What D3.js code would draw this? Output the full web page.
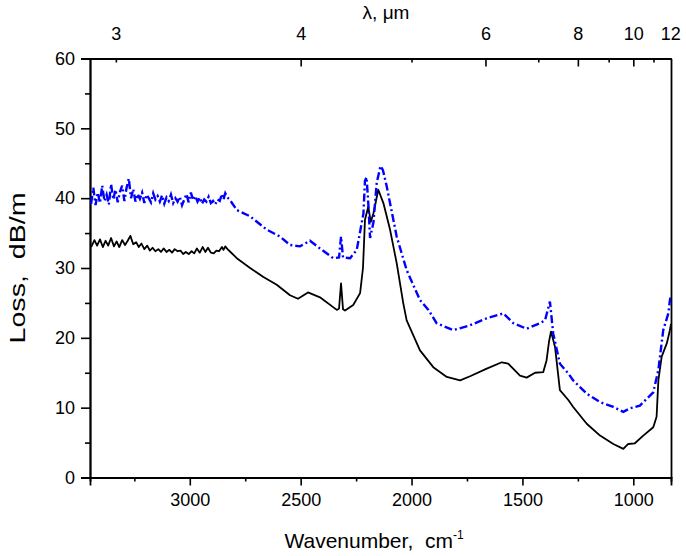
<!DOCTYPE html>
<html>
<head>
<meta charset="utf-8">
<script src="https://cdn.jsdelivr.net/npm/d3@7"></script>
<style>
  html, body { margin: 0; padding: 0; background: #fff; }
  svg { display: block; font-family: "Liberation Sans", Arial, sans-serif; }
</style>
</head>
<body>
<svg id="chart" width="686" height="556"></svg>
<script>
// ---- data ----
const blackWavenumber = [3445,3430,3418,3405,3392,3380,3368,3355,3342,3330,3318,3305,3292,3280,3268,3255,3242,3230,3218,3205,3192,3180,3168,3155,3142,3130,3118,3105,3092,3080,3068,3055,3042,3030,3018,3005,2992,2980,2968,2955,2942,2930,2918,2905,2892,2880,2868,2855,2848,2840,2830,2820,
  2788,2728,2668,2608,2548,2512,2467,2413,2337,2327,2318,2309,2300,2263,2232,2219,2210,2195,2184,2172,2150,2127,2097,2067,2037,2022,1962,1902,1841,1781,1736,1661,1593,1564,1511,1481,1443,1406,1391,1380,1371,1353,1331,1293,1271,1210,1150,1090,1045,1023,993,955,910,895,887,872,849,835,830];
const blackLoss = [33.0,34.0,33.2,34.1,33.0,33.9,33.2,34.3,33.1,33.8,33.0,34.0,33.3,33.9,34.6,33.4,33.7,33.0,33.5,32.7,33.2,32.5,32.9,32.4,32.7,32.3,32.8,32.3,32.6,32.2,32.7,32.4,32.5,32.0,32.3,32.0,32.4,32.1,32.8,32.2,33.0,32.3,32.9,32.2,32.1,32.5,32.4,33.0,32.6,33.1,32.7,32.4,
  31.4,30.0,28.7,27.6,26.1,25.6,26.5,25.8,24.0,24.2,27.8,24.1,23.9,24.7,26.4,30.0,36.9,38.8,36.6,37.8,41.2,39.3,35.5,30.7,24.9,22.5,18.2,15.8,14.4,13.9,14.5,15.6,16.5,16.3,14.6,14.3,15.0,15.1,16.8,19.5,20.9,18.7,12.5,11.1,10.1,7.7,6.0,4.8,4.1,4.8,4.9,6.0,7.2,8.7,13.9,17.3,19.2,21.1,22.0];

const blueWavenumber = [3445,3435,3425,3415,3405,3395,3385,3375,3365,3355,3345,3335,3325,3315,3305,3295,3285,3275,3265,3255,3245,3235,3225,3215,3205,3195,3185,3175,3165,3155,3145,3135,3125,3115,3105,3095,3085,3075,3065,3055,3045,3035,3025,3015,3005,2995,2985,2975,2965,2955,2945,2935,2925,2915,2905,2895,2885,2875,2865,2855,2848,2840,2830,2818,
  2788,2728,2653,2593,2548,2503,2458,2413,2353,2327,2318,2309,2277,2247,2217,2210,2203,2196,2187,2172,2157,2140,2129,2112,2067,2022,1962,1924,1887,1812,1736,1661,1586,1541,1481,1421,1398,1376,1361,1331,1293,1271,1210,1150,1090,1045,1015,970,910,887,865,842,835,830];
const blueLoss = [39.2,41.5,39.0,40.8,39.3,41.8,39.6,40.5,39.1,42.0,39.8,41.2,39.4,40.9,41.8,39.6,41.5,42.8,40.0,41.3,39.5,40.6,39.9,40.8,39.3,40.5,40.0,39.4,40.7,39.8,40.3,39.5,40.4,39.2,40.1,39.6,40.5,39.3,40.0,39.5,40.2,39.0,39.8,40.6,39.4,40.8,39.7,40.3,39.5,40.1,39.2,39.8,39.5,40.2,39.3,39.6,39.1,39.8,39.6,40.6,39.8,40.7,40.1,39.7,
  38.3,37.4,35.5,34.5,33.3,33.1,33.9,32.8,31.4,31.5,34.5,31.5,31.4,32.6,37.8,42.5,43.0,39.8,34.3,36.5,42.2,44.6,44.0,41.7,34.5,29.7,25.4,24.0,22.1,21.1,21.8,22.8,23.5,22.1,21.3,22.1,22.5,25.2,20.6,16.3,14.9,13.9,12.0,10.8,10.1,9.4,9.9,10.3,12.2,15.4,21.1,23.5,25.4,26.0];

const xTickValues = [3000, 2500, 2000, 1500, 1000];
const xMinorTicks = [3250, 2750, 2250, 1750, 1250];
const yTickValues = [0, 10, 20, 30, 40, 50, 60];
const yMinorTicks = [5, 15, 25, 35, 45, 55];
const lambdaLabels = [3, 4, 6, 8, 10, 12];
const lambdaMajor = [4, 6, 8, 10];
const lambdaMinor = [3, 5, 7, 9, 11];

// ---- layout ----
const svg = d3.select("#chart");
const mL = 90, mR = 671, mT = 58.5, mB = 477.5;
const x = d3.scaleLinear().domain([3450, 830]).range([mL, mR]);
const y = d3.scaleLinear().domain([0, 60]).range([mB, mT]);
const fontTick = 18;

// bottom axis
svg.append("g").attr("transform", `translate(0,${mB})`)
  .call(d3.axisBottom(x).tickValues(xTickValues).tickSize(8).tickPadding(8).tickFormat(d3.format("d")));
svg.append("g").attr("transform", `translate(0,${mB})`)
  .call(d3.axisBottom(x).tickValues(xMinorTicks).tickSize(4).tickFormat(""));

// left axis
svg.append("g").attr("transform", `translate(${mL},0)`)
  .call(d3.axisLeft(y).tickValues(yTickValues).tickSize(9).tickPadding(6));
svg.append("g").attr("transform", `translate(${mL},0)`)
  .call(d3.axisLeft(y).tickValues(yMinorTicks).tickSize(5).tickFormat(""));

// top axis (lambda)
svg.append("g").attr("transform", `translate(0,${mT})`)
  .call(d3.axisTop(x).tickValues(lambdaLabels.map(l => 10000 / l)).tickSize(0).tickPadding(19)
    .tickFormat(d => Math.round(10000 / d)));
svg.append("g").attr("transform", `translate(0,${mT})`)
  .call(d3.axisTop(x).tickValues(lambdaMajor.map(l => 10000 / l)).tickSizeInner(-8).tickSizeOuter(0).tickFormat(""));
svg.append("g").attr("transform", `translate(0,${mT})`)
  .call(d3.axisTop(x).tickValues(lambdaMinor.map(l => 10000 / l)).tickSizeInner(-4).tickSizeOuter(0).tickFormat(""));

// right axis line
svg.append("g").attr("transform", `translate(${mR},0)`)
  .call(d3.axisRight(y).tickValues([]).tickSizeOuter(0));

svg.selectAll(".tick text").attr("font-size", fontTick).attr("fill", "#000")
  .attr("font-family", "'Liberation Sans', Arial, sans-serif");
svg.selectAll(".domain, .tick line").attr("stroke", "#000").attr("stroke-width", 1.6);
svg.selectAll(".domain").attr("stroke-width", 1.8);

// curves
const line = d3.line().x(d => x(d[0])).y(d => y(d[1]));
svg.append("clipPath").attr("id", "plotclip").append("rect")
  .attr("x", mL).attr("y", mT - 20).attr("width", mR - mL).attr("height", mB - mT + 20);

svg.append("path")
  .datum(blackWavenumber.map((w, i) => [w, blackLoss[i]]))
  .attr("d", line).attr("fill", "none").attr("stroke", "#000").attr("stroke-width", 1.8)
  .attr("stroke-linejoin", "round").attr("clip-path", "url(#plotclip)");

svg.append("path")
  .datum(blueWavenumber.map((w, i) => [w, blueLoss[i]]))
  .attr("d", line).attr("fill", "none").attr("stroke", "#0000ff").attr("stroke-width", 2.4)
  .attr("stroke-dasharray", "8,3,2,3").attr("clip-path", "url(#plotclip)");

// titles
svg.append("text").attr("x", 374).attr("y", 548).attr("text-anchor", "middle")
  .attr("font-size", 21).attr("fill", "#000")
  .html('Wavenumber,&#160; cm<tspan dy="-9" font-size="12">-1</tspan>');

svg.append("text").attr("transform", "translate(25,268) rotate(-90) scale(1.3,1)").attr("text-anchor", "middle")
  .attr("font-size", 22).attr("fill", "#000").text("Loss,\u00a0 dB/m");

svg.append("text").attr("x", 386).attr("y", 19).attr("text-anchor", "middle")
  .attr("font-size", 19).attr("fill", "#000").text("λ, μm");
</script>
</body>
</html>
